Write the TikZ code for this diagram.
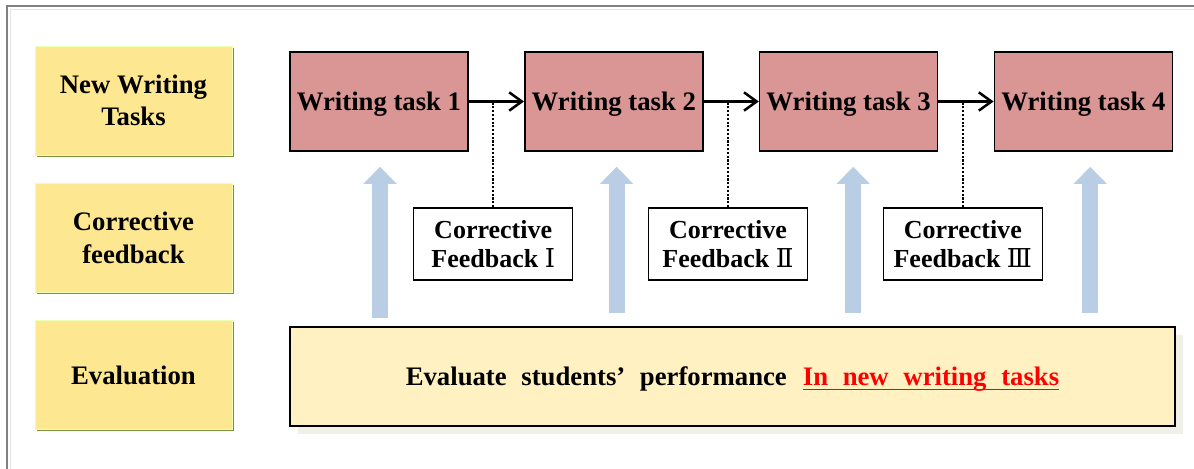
\documentclass[tikz,border=0pt]{standalone}
\usepackage{fontspec}
\setmainfont{Liberation Serif}
\newfontfamily\numfont{DejaVu Serif}
\usepackage{xcolor}
\usetikzlibrary{arrows.meta, positioning, calc, shadows}

% thick underline in the current colour
\newcommand\thickunder[1]{\setbox0\hbox{#1}\rlap{\rule[-3.2pt]{\wd0}{1.3pt}}\box0}

\definecolor{taskred}{HTML}{D99694}
\definecolor{rowyellow}{HTML}{FEE791}
\definecolor{rowgreen}{HTML}{77933C}
\definecolor{evalyellow}{HTML}{FFF1C1}
\definecolor{evalshade}{HTML}{F0EFE8}
\definecolor{liftblue}{HTML}{B9CDE5}

\begin{document}
\begin{tikzpicture}[node distance=3.43cm, font=\bfseries\fontsize{19}{23}\selectfont]
\tikzstyle{rowlabel} = [rectangle, minimum width=4.925cm, minimum height=2.725cm, align=center, fill=rowyellow, draw=green!25!yellow!30, line width=0.4pt, drop shadow={shadow xshift=0.05cm, shadow yshift=-0.05cm, fill=rowgreen, opacity=1}]
\tikzstyle{task} = [rectangle, minimum width=4.45cm, minimum height=2.475cm, text centered, text depth=0pt, draw=black, line width=1.1pt, fill=taskred]
\tikzstyle{feedback} = [rectangle, minimum width=3.975cm, minimum height=1.8cm, align=center, draw=black, line width=1.1pt, fill=white, font=\bfseries\fontsize{18.5}{21}\selectfont]
\tikzstyle{evalbox} = [rectangle, minimum width=22.125cm, minimum height=2.475cm, text centered, text depth=0pt, draw=black, line width=1.1pt, fill=evalyellow, drop shadow={shadow xshift=0.2cm, shadow yshift=-0.2cm, fill=evalshade, opacity=1}]
\tikzstyle{arrow} = [line width=1.8pt,->,>={Straight Barb[length=9pt,width=13pt]}]
\tikzstyle{fbline} = [line width=1.5pt, dash pattern=on 1.5pt off 1.2pt]
\tikzstyle{uparrow} = [line width=0.4cm, liftblue, -{Triangle[width=0.8cm,length=0.425cm]}, shorten <=0.325cm, shorten >=0.375cm]

\useasboundingbox (0,0) rectangle (29.85,-11.725);

% page frame
\draw[black!10, line width=0.5pt] (0.26,-11.725) -- (0.26,-0.24) -- (29.85,-0.24);
\draw[black!50, line width=1.2pt] (0.175,-11.725) -- (0.175,-0.15) -- (29.85,-0.15);

% row labels
\node (newtasks) [rowlabel] at (3.3375,-2.5125) {New Writing\\Tasks};
\node (corrective) [rowlabel, below of=newtasks] {Corrective\\feedback};
\node (evaluation) [rowlabel, below of=corrective] {Evaluation};

% writing tasks
\node (task1) [task] at (9.475,-2.5375) {Writing task 1};
\node (task2) [task, right of=task1, node distance=5.87cm] {Writing task 2};
\node (task3) [task, right of=task2, node distance=5.87cm] {Writing task 3};
\node (task4) [task, right of=task3, node distance=5.87cm] {Writing task 4};

% feedback between tasks
\node (fb1) [feedback] at ($(task1)!0.5!(task2)+(-0.08,-3.56)$) {Corrective\\Feedback {\numfont\mdseries Ⅰ}};
\node (fb2) [feedback] at ($(task2)!0.5!(task3)+(-0.08,-3.56)$) {Corrective\\Feedback {\numfont\mdseries Ⅱ}};
\node (fb3) [feedback] at ($(task3)!0.5!(task4)+(-0.08,-3.56)$) {Corrective\\Feedback {\numfont\mdseries Ⅲ}};

% evaluation bar
\node (eval) [evalbox] at (18.3125,-9.4125) {\spaceskip=0.55em\relax Evaluate students’ performance\hspace{0.6em}\textcolor{red}{\thickunder{In new writing tasks}}};

\draw [arrow] (task1) -- (task2);
\draw [arrow] (task2) -- (task3);
\draw [arrow] (task3) -- (task4);

\draw [fbline] (fb1.north) -- (fb1.north |- task1.east);
\draw [fbline] (fb2.north) -- (fb2.north |- task2.east);
\draw [fbline] (fb3.north) -- (fb3.north |- task3.east);

\draw [uparrow, shorten <=0.2cm] ([xshift=0.025cm]task1.south |- eval.north) -- ([xshift=0.025cm]task1.south);
\draw [uparrow] ([xshift=0.07cm]task2.south |- eval.north) -- ([xshift=0.07cm]task2.south);
\draw [uparrow] ([xshift=0.115cm]task3.south |- eval.north) -- ([xshift=0.115cm]task3.south);
\draw [uparrow] ([xshift=0.17cm]task4.south |- eval.north) -- ([xshift=0.17cm]task4.south);

\end{tikzpicture}
\end{document}
